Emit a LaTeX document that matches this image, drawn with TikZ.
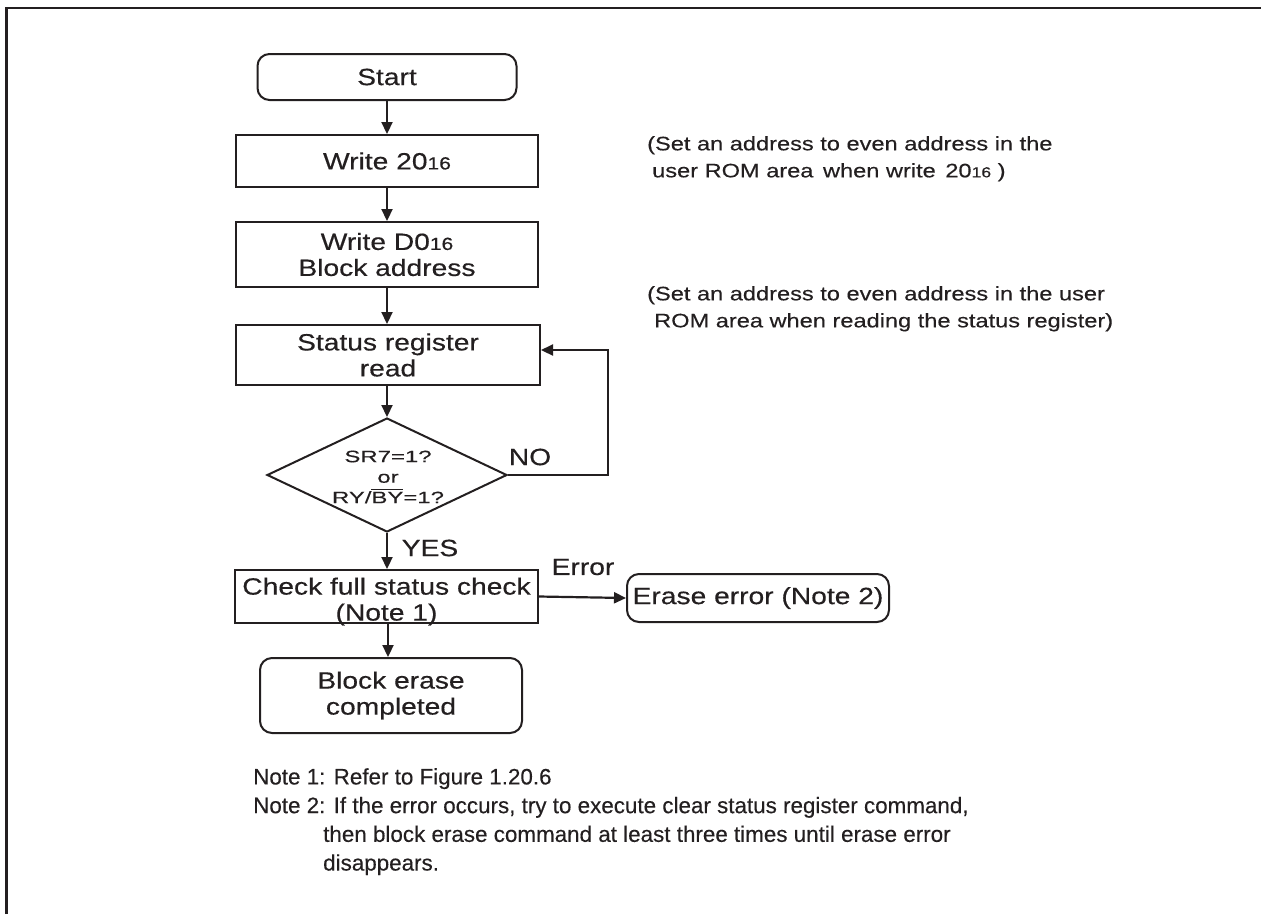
\documentclass[tikz,border=0pt]{standalone}
\usepackage{fontspec}
\setmainfont{Liberation Sans}[FakeStretch=1.2,FakeBold=0.4]
\newfontfamily\notefont{Liberation Sans}[FakeStretch=1.0,FakeBold=0.3]
\newfontfamily\sidefont{Liberation Sans}[FakeStretch=1.21,FakeBold=0.3]
\newfontfamily\diafont{Liberation Sans}[FakeStretch=1.45,FakeBold=0.3]
\usetikzlibrary{arrows.meta,shapes.geometric}
\definecolor{ink}{RGB}{35,31,32}
\newcommand\hexsub[1]{{\fontsize{17.5}{17.5}\selectfont #1}}
\newcommand\hexsubs[1]{{\fontsize{14.5}{14.5}\selectfont #1}}
\newcommand\ovl[1]{\leavevmode\vbox{\hrule height 1.1pt\kern 1.6pt\hbox{#1}}}
\begin{document}
\begin{tikzpicture}[x=1pt,y=-1pt,
  every node/.style={text=ink},
  boxtxt/.style={font=\fontsize{23.5}{26}\selectfont, align=center},
  procbox/.style={draw=ink, line width=2pt, inner sep=0pt, boxtxt},
  termbox/.style={procbox, rounded corners=12pt},
  flow/.style={draw=ink, line width=2.2pt, -{Triangle[length=12pt,width=11pt]}},
  sidetxt/.style={font=\sidefont\fontsize{19.5}{27}\selectfont, align=left, anchor=north west, inner sep=0pt},
  notetxt/.style={font=\notefont\fontsize{22.4}{28.7}\selectfont, align=left, anchor=north west, inner sep=0pt},
  lbl/.style={font=\fontsize{23.5}{26}\selectfont, inner sep=0pt}
]
\useasboundingbox (0,0) rectangle (1261,914);
\draw[ink, line width=2.4pt] (6.5,914) -- (6.5,8) -- (1261,8);

\node[termbox, minimum width=259pt, minimum height=46pt] (start) at (387,77) {Start};
\node[procbox, minimum width=302pt, minimum height=52pt] (w20) at (387,161) {Write 20\hexsub{16}};
\node[procbox, minimum width=302pt, minimum height=65pt] (wd0) at (387,254.5) {Write D0\hexsub{16}\\Block address};
\node[procbox, minimum width=304pt, minimum height=60pt] (srr) at (388,355) {Status register\\read};
\node[draw=ink, line width=2pt, diamond, minimum width=240pt, minimum height=114pt, inner sep=0pt] (dia) at (387,475) {};
\node[font=\diafont\fontsize{16.5}{20.5}\selectfont, align=center, inner sep=0pt] (diat) at (388,477) {SR7=1?\\or\\RY/\ovl{BY}=1?};
\node[procbox, minimum width=303pt, minimum height=53pt] (chk) at (386.5,596.5) {};
\node[boxtxt, inner sep=0pt] (chkt) at (386.5,601.5) {Check full status check\\(Note 1)};
\node[termbox, minimum width=262pt, minimum height=48pt] (err) at (758,598) {Erase error (Note 2)};
\node[termbox, minimum width=262pt, minimum height=75pt] (done) at (391,695.5) {Block erase\\completed};

\node[lbl] (no) at (530,457) {NO};
\node[lbl] (yes) at (430,548) {YES};
\node[lbl] (errl) at (583,567) {Error};

\coordinate (lp) at (608,350);
\draw[flow] (start.south) -- (w20.north);
\draw[flow] (w20.south) -- (wd0.north);
\draw[flow] (wd0.south) -- (srr.north -| wd0.south);
\draw[flow] (srr.south -| dia.north) -- (dia.north);
\draw[flow] (dia.east) -| (lp) -- (srr.east |- lp);
\draw[flow] (dia.south) -- (chk.north -| dia.south);
\draw[flow] (chk.east) -- (err.west);
\draw[flow] (chk.south -| 388,0) -- (done.north -| 388,0);

\node[sidetxt] (s1) at (647,136) {(Set an address to even address in the\\\hspace*{5pt}user ROM area\hspace*{3pt} when write\hspace*{3pt} 20\hexsubs{16} )};
\node[sidetxt] (s2) at (647,286) {(Set an address to even address in the user\\\hspace*{7pt}ROM area when reading the status register)};

\node[notetxt] (n1) at (253,768) {Note 1: Refer to Figure 1.20.6\\
Note 2: If the error occurs, try to execute clear status register command,\\
\hspace*{70pt}then block erase command at least three times until erase error\\
\hspace*{70pt}disappears.};
\end{tikzpicture}
\end{document}
